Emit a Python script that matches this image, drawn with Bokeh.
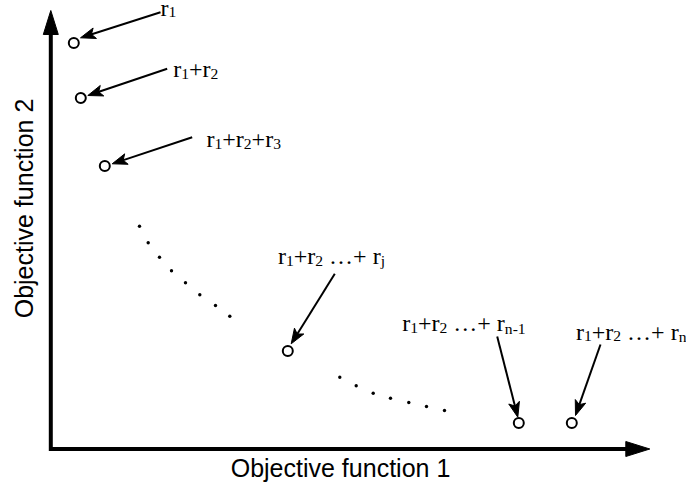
import re
import math
from bokeh.plotting import figure
from bokeh.models import Range1d, ColumnDataSource
from bokeh.core.properties import value
from bokeh.embed import file_html
from bokeh.resources import INLINE

# ---- data (objective-space units) ----
obj1 = [2.3, 3.0, 5.4, 23.7, 46.8, 52.1]
obj2 = [40.6, 35.1, 28.3, 9.8, 2.6, 2.6]
labels = ["r_{1}", "r_{1}+r_{2}", "r_{1}+r_{2}+r_{3}",
          "r_{1}+r_{2} …+ r_{j}", "r_{1}+r_{2} …+ r_{n-1}", "r_{1}+r_{2} …+ r_{n}"]
label_x = [10.97, 12.24, 15.57, 22.72, 35.14, 52.52]
label_y = [43.5, 37.35, 30.35, 18.65, 11.92, 11.08]
arrow_tail_x = [10.97, 11.64, 14.14, 28.40, 44.64, 54.97]
arrow_tail_y = [43.68, 38.02, 31.18, 17.52, 11.25, 10.45]
arrow_tip_x = [2.97, 3.70, 6.14, 24.04, 46.70, 52.47]
arrow_tip_y = [41.12, 35.35, 28.52, 10.52, 3.18, 3.35]
dots1_x = [8.87, 9.74, 10.87, 12.07, 13.47, 14.90, 16.47, 17.90]
dots1_y = [22.28, 20.62, 19.18, 17.82, 16.62, 15.42, 14.35, 13.28]
dots2_x = [28.90, 30.54, 32.24, 33.97, 35.80, 37.57, 39.37]
dots2_y = [7.18, 6.32, 5.58, 5.08, 4.65, 4.25, 3.85]
x_axis_end = 59.9
y_axis_end = 43.85
x_title = "Objective function 1"
y_title = "Objective function 2"
x_title_pos = (28.97, -2.72)
y_title_pos = (-1.86, 24.05)

# ---- figure ----
W_PX, H_PX = 686, 486
x_range = Range1d(-5.03, 63.57)
y_range = Range1d(-3.75, 44.85)
PX = (x_range.end - x_range.start) / W_PX  # data units per pixel (isotropic)

p = figure(width=W_PX, height=H_PX, x_range=x_range, y_range=y_range,
           output_backend="svg", toolbar_location=None, min_border=0,
           x_axis_location=None, y_axis_location=None,
           outline_line_color=None, background_fill_color="white",
           border_fill_color="white")
p.xgrid.visible = False
p.ygrid.visible = False


def head(tx, ty, sx, sy, length, half_w, notch):
    dx, dy = tx - sx, ty - sy
    n = math.hypot(dx, dy)
    ux, uy = dx / n, dy / n
    nx, ny = -uy, ux
    L, H, N = length * PX, half_w * PX, notch * PX
    bx, by = tx - ux * L, ty - uy * L
    xs = [tx, bx + nx * H, tx - ux * (L - N), bx - nx * H]
    ys = [ty, by + ny * H, ty - uy * (L - N), by - ny * H]
    return xs, ys, tx - ux * (L - N) + ux * 0.5 * PX, ty - uy * (L - N) + uy * 0.5 * PX


# ---- axes with arrowheads ----
AX_LEN, AX_HW = 24, 7.5
yhx, yhy, ysx, ysy = head(0, y_axis_end, 0, 0, AX_LEN, AX_HW, 0)
xhx, xhy, xsx, xsy = head(x_axis_end, 0, 0, 0, AX_LEN, AX_HW, 0)
p.line([0, 0, xsx], [ysy, 0, 0], line_color="black", line_width=4,
       line_join="miter", line_cap="butt")
p.patches([yhx, xhx], [yhy, xhy], fill_color="black", line_color="black",
          line_width=1)

# ---- dotted trails ----
p.scatter(dots1_x + dots2_x, dots1_y + dots2_y, marker="circle", size=3.4,
          fill_color="black", line_color=None)

# ---- annotation arrows ----
head_xs, head_ys, sx0, sy0, sx1, sy1 = [], [], [], [], [], []
for i in range(len(obj1)):
    hx, hy, ex, ey = head(arrow_tip_x[i], arrow_tip_y[i], arrow_tail_x[i],
                          arrow_tail_y[i], 15, 5.5, 3.5)
    head_xs.append(hx)
    head_ys.append(hy)
    sx0.append(arrow_tail_x[i])
    sy0.append(arrow_tail_y[i])
    sx1.append(ex)
    sy1.append(ey)
p.segment(sx0, sy0, sx1, sy1, line_color="black", line_width=2)
p.patches(head_xs, head_ys, fill_color="black", line_color="black", line_width=1)

# ---- points ----
p.scatter(obj1, obj2, marker="circle", size=10, fill_color="white",
          line_color="black", line_width=2)

# ---- labels with subscripts (Times metrics) ----
F = 24.0
SUB = 0.65
BASE_FIX = -6.5     # px, baseline correction for the serif labels
SUB_DROP = 2.5      # px, subscript drop below the baseline
WID = {'r': 333, '1': 500, '2': 500, '3': 500, '+': 564, ' ': 250,
       '…': 1000, 'j': 278, 'n': 500, '-': 333}


def width(s, size):
    return sum(WID.get(c, 500) for c in s) / 1000 * size


main = dict(x=[], y=[], t=[], xo=[])
sub = dict(x=[], y=[], t=[], xo=[])
for lab, lx, ly in zip(labels, label_x, label_y):
    off = 0.0
    for tok in re.split(r"(_\{[^}]*\})", lab):
        if not tok:
            continue
        if tok.startswith("_{"):
            s = tok[2:-1]
            sub["x"].append(lx); sub["y"].append(ly); sub["t"].append(s); sub["xo"].append(off)
            off += width(s, F * SUB)
        else:
            for word in re.split(r"( )", tok):
                if word == "":
                    continue
                if word != " ":
                    main["x"].append(lx); main["y"].append(ly); main["t"].append(word); main["xo"].append(off)
                off += width(word, F)
p.text(x="x", y="y", text="t", x_offset="xo", y_offset=BASE_FIX,
       source=ColumnDataSource(main),
       text_font=value("Liberation Serif"), text_font_size=f"{F:.0f}px",
       text_align="left", text_baseline="alphabetic", text_color="black")
p.text(x="x", y="y", text="t", x_offset="xo",
       y_offset=SUB_DROP + BASE_FIX * SUB,
       source=ColumnDataSource(sub),
       text_font=value("Liberation Serif"), text_font_size=f"{F*SUB:.1f}px",
       text_align="left", text_baseline="alphabetic", text_color="black")

# ---- axis titles ----
TITLE_FIX = -8.5
p.text(x=[x_title_pos[0]], y=[x_title_pos[1]], text=[x_title], y_offset=TITLE_FIX,
       text_font=value("Liberation Sans"), text_font_size="25px",
       text_align="center", text_baseline="alphabetic", text_color="black")
p.text(x=[y_title_pos[0]], y=[y_title_pos[1]], text=[y_title], angle=math.pi / 2,
       x_offset=TITLE_FIX,
       text_font=value("Liberation Sans"), text_font_size="25px",
       text_align="center", text_baseline="alphabetic", text_color="black")

open("out.html", "w").write(file_html(p, INLINE))
